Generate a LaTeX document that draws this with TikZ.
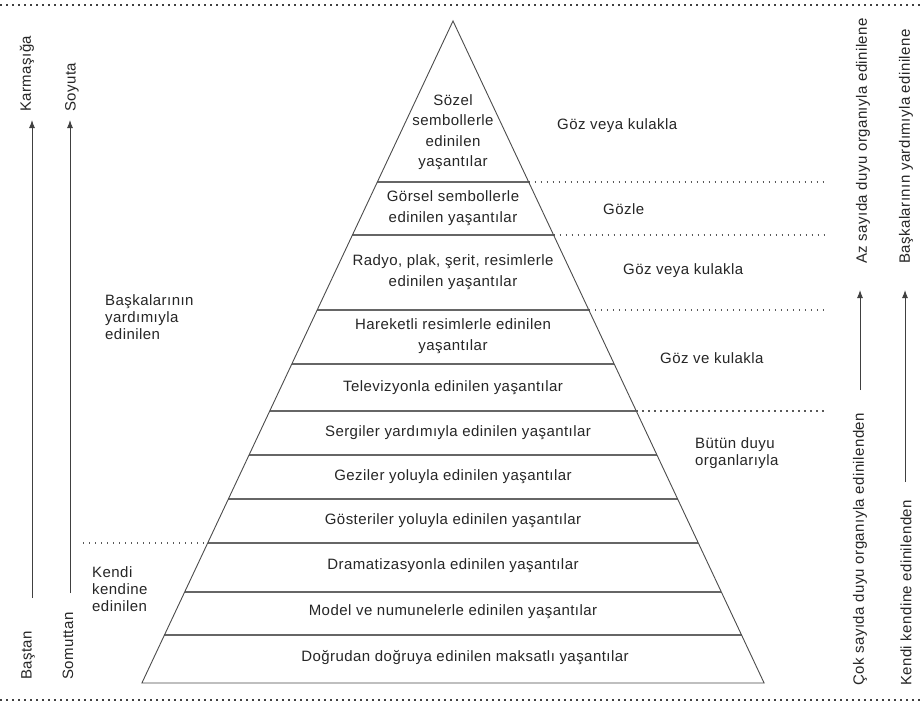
\documentclass[tikz,border=0pt]{standalone}
\usepackage{fontspec}
\setmainfont{Liberation Sans}[LetterSpace=3]
\usetikzlibrary{arrows.meta}
\begin{document}
\begin{tikzpicture}[x=1pt,y=-1pt,
  txt/.style={font=\fontsize{15}{20.5}\selectfont, text=black!85, inner sep=0pt, align=center},
  ltxt/.style={font=\fontsize{15}{17}\selectfont, text=black!85, inner sep=0pt, align=left},
  vtxt/.style={font=\fontsize{15}{18}\selectfont, text=black!85, inner sep=0pt, rotate=90, anchor=west},
  pyr/.style={draw=black!70, line width=0.9pt},
  band/.style={draw=black!60, line width=1.1pt},
  sep/.style={draw=black!65, line width=1.1pt, dash pattern=on 1.2pt off 4.8pt},
  frame/.style={draw=black!75, line width=1.6pt, dash pattern=on 1.5pt off 4.5pt},
  arr/.style={draw=black!75, line width=1pt, -{Latex[length=8pt,width=6pt]}}
]
\useasboundingbox[fill=white] (0,0) rectangle (923,704);

% frame lines
\coordinate (ft1) at (0,5); \coordinate (ft2) at (923,5);
\coordinate (fb1) at (0,700); \coordinate (fb2) at (923,700);
\draw[frame] (ft1) -- (ft2);
\draw[frame] (fb1) -- (fb2);

% pyramid corners
\coordinate (apex) at (453,21);
\coordinate (bl) at (141.9,683);
\coordinate (br) at (764.1,683);

% band boundaries
\coordinate (l1) at (377.3,182); \coordinate (r1) at (528.7,182);
\coordinate (l2) at (352.4,235); \coordinate (r2) at (553.6,235);
\coordinate (l3) at (317.2,310); \coordinate (r3) at (588.8,310);
\coordinate (l4) at (291.8,364); \coordinate (r4) at (614.2,364);
\coordinate (l5) at (269.7,411); \coordinate (r5) at (636.3,411);
\coordinate (l6) at (249.0,455); \coordinate (r6) at (657.0,455);
\coordinate (l7) at (228.3,499); \coordinate (r7) at (677.7,499);
\coordinate (l8) at (207.7,543); \coordinate (r8) at (698.3,543);
\coordinate (l9) at (184.6,592); \coordinate (r9) at (721.4,592);
\coordinate (l10) at (164.4,635); \coordinate (r10) at (741.6,635);

\foreach \i in {1,...,10} { \draw[band] (l\i) -- (r\i); }
\draw[pyr] (bl) -- (apex) -- (br) -- cycle;

% right separators
\coordinate (s1) at (828,182);
\coordinate (s2) at (828,235);
\coordinate (s3) at (828,310);
\coordinate (s5) at (828,411);
\coordinate (s8) at (83,543);
\draw[sep] (r1) -- (s1);
\draw[sep] (r2) -- (s2);
\draw[sep] (r3) -- (s3);
\draw[sep] (r5) -- (s5);
\draw[sep] (s8) -- (l8);

% pyramid texts
\node[txt] (t1) at (453,132) {Sözel\\sembollerle\\edinilen\\yaşantılar};
\node[txt] (t2) at (453,208) {Görsel sembollerle\\edinilen yaşantılar};
\node[txt] (t3) at (453,272) {Radyo, plak, şerit, resimlerle\\edinilen yaşantılar};
\node[txt] (t4) at (453,336) {Hareketli resimlerle edinilen\\yaşantılar};
\node[txt] (t5) at (453,388) {Televizyonla edinilen yaşantılar};
\node[txt] (t6) at (458,433) {Sergiler yardımıyla edinilen yaşantılar};
\node[txt] (t7) at (453,477) {Geziler yoluyla edinilen yaşantılar};
\node[txt] (t8) at (453,521) {Gösteriler yoluyla edinilen yaşantılar};
\node[txt] (t9) at (453,566) {Dramatizasyonla edinilen yaşantılar};
\node[txt] (t10) at (453,612) {Model ve numunelerle edinilen yaşantılar};
\node[txt] (t11) at (465,658) {Doğrudan doğruya edinilen maksatlı yaşantılar};

% right labels
\node[txt, anchor=west] (g1) at (557,126) {Göz veya kulakla};
\node[txt, anchor=west] (g2) at (603,209) {Gözle};
\node[txt, anchor=west] (g3) at (623,271) {Göz veya kulakla};
\node[txt, anchor=west] (g4) at (660,358) {Göz ve kulakla};
\node[ltxt, anchor=west] (g5) at (695,453) {Bütün duyu\\organlarıyla};

% left labels
\node[ltxt, anchor=west] (b1) at (105,317) {Başkalarının\\yardımıyla\\edinilen};
\node[ltxt, anchor=west] (k1) at (92,589) {Kendi\\kendine\\edinilen};

% left vertical labels and arrows
\node[vtxt] (karm) at (27,112) {Karmaşığa};
\node[vtxt] (soy) at (72,112) {Soyuta};
\node[vtxt] (bas) at (28,680) {Baştan};
\node[vtxt] (som) at (68,680) {Somuttan};
\coordinate (a1s) at (32,598); \coordinate (a1e) at (32,120);
\coordinate (a2s) at (70,593); \coordinate (a2e) at (70,120);
\draw[arr] (a1s) -- (a1e);
\draw[arr] (a2s) -- (a2e);

% right vertical labels and arrows
\node[vtxt] (az) at (863,264) {Az sayıda duyu organıyla edinilene};
\node[vtxt] (bky) at (906,264) {Başkalarının yardımıyla edinilene};
\node[vtxt] (cok) at (860,686) {Çok sayıda duyu organıyla edinilenden};
\node[vtxt] (kke) at (906,686) {Kendi kendine edinilenden};
\coordinate (a3s) at (860,390); \coordinate (a3e) at (860,290);
\coordinate (a4s) at (905,482); \coordinate (a4e) at (905,290);
\draw[arr] (a3s) -- (a3e);
\draw[arr] (a4s) -- (a4e);
\end{tikzpicture}
\end{document}
